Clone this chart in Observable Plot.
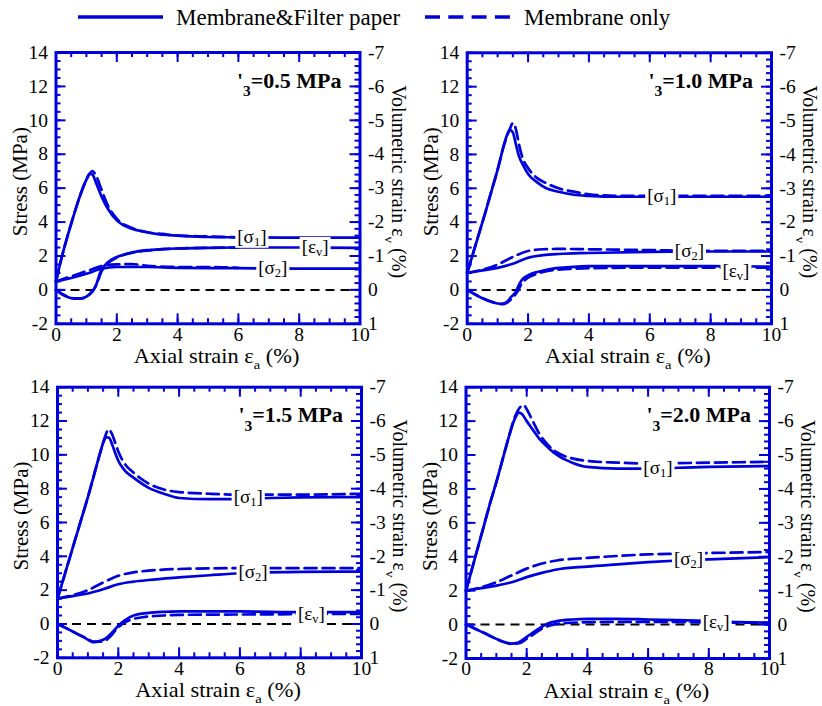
<!DOCTYPE html>
<html>
<head>
<meta charset="utf-8">
<script src="https://cdn.jsdelivr.net/npm/d3@7"></script>
<script src="https://cdn.jsdelivr.net/npm/@observablehq/plot@0.6"></script>
<style>
  body { margin: 0; background: #fff; }
  #root { position: relative; width: 822px; height: 706px; font-family: "Liberation Serif", serif; overflow: hidden; }
  .panel { position: absolute; }
</style>
</head>
<body>
<div id="root"></div>
<script>
// ---------------- data (axial strain %, stress MPa / volumetric strain %) ----------------
const xTicks = [0, 2, 4, 6, 8, 10];
const yTicks = [-2, 0, 2, 4, 6, 8, 10, 12, 14];
const legendNames = ["Membrane&Filter paper", "Membrane only"];
const confining = ["0.5", "1.0", "1.5", "2.0"];

// sigma'3 = 0.5 MPa
const s1_05_mf = [[0,0.5],[0.2,2.0],[0.4,3.3],[0.6,4.5],[0.8,5.6],[1.0,6.5],[1.1,6.85],[1.2,6.8],[1.3,6.4],[1.5,5.5],[1.7,4.8],[2.0,4.1],[2.5,3.6],[3.0,3.4],[3.5,3.25],[4.0,3.2],[5.0,3.12],[6.0,3.1],[8.0,3.08],[10,3.08]];
const s1_05_m  = [[0,0.5],[0.2,2.0],[0.4,3.3],[0.6,4.5],[0.8,5.6],[1.0,6.5],[1.2,7.0],[1.3,6.8],[1.5,5.9],[1.7,5.0],[2.0,4.2],[2.5,3.65],[3.0,3.4],[3.5,3.3],[4.0,3.2],[5.0,3.15],[6.0,3.1]];
const s2_05_mf = [[0,0.5],[0.5,0.7],[1.0,0.95],[1.5,1.25],[2.0,1.35],[3.0,1.35],[4.0,1.3],[6.0,1.28],[8.0,1.25],[10,1.25]];
const s2_05_m  = [[0,0.5],[0.5,0.8],[1.0,1.1],[1.5,1.4],[2.0,1.5],[2.5,1.52],[3.0,1.42],[4.0,1.35],[5.0,1.35],[6.0,1.3]];
const ev_05_mf = [[0,0],[0.2,0.13],[0.4,0.22],[0.6,0.26],[0.8,0.26],[1.0,0.2],[1.15,0.08],[1.3,-0.1],[1.45,-0.5],[1.6,-0.72],[1.8,-0.88],[2.0,-0.97],[2.5,-1.1],[3.0,-1.17],[3.5,-1.2],[4.0,-1.22],[5.0,-1.24],[6.0,-1.25],[8.0,-1.25],[10,-1.24]];
const ev_05_m  = [[0,0],[0.2,0.12],[0.4,0.2],[0.6,0.25],[0.8,0.25],[1.0,0.2],[1.2,0.05],[1.35,-0.2],[1.5,-0.55],[1.7,-0.78],[2.0,-0.95],[2.5,-1.1],[3.0,-1.16],[4.0,-1.22],[5.0,-1.24],[6.0,-1.25]];

// sigma'3 = 1.0 MPa
const s1_10_mf = [[0,1.0],[0.2,2.2],[0.4,3.4],[0.6,4.6],[0.8,5.85],[1.0,7.1],[1.2,8.5],[1.3,9.1],[1.4,9.45],[1.5,9.3],[1.6,8.6],[1.7,7.9],[1.8,7.5],[2.0,6.85],[2.3,6.35],[2.6,6.0],[3.0,5.8],[3.5,5.62],[4.0,5.55],[5.0,5.5],[6.0,5.5],[8.0,5.5],[10,5.5]];
const s1_10_m  = [[0,1.0],[0.2,2.2],[0.4,3.4],[0.6,4.6],[0.8,5.85],[1.0,7.1],[1.2,8.5],[1.4,9.5],[1.5,9.85],[1.6,9.5],[1.7,8.6],[1.8,7.9],[2.0,7.2],[2.3,6.6],[2.6,6.3],[3.0,6.0],[3.5,5.8],[4.0,5.65],[5.0,5.55],[6.0,5.55],[8.0,5.55],[10,5.55]];
const s2_10_mf = [[0,1.0],[0.5,1.15],[1.0,1.3],[1.5,1.55],[2.0,1.9],[2.5,2.05],[3.0,2.12],[4.0,2.18],[6.0,2.25],[8.0,2.27],[10,2.27]];
const s2_10_m  = [[0,1.0],[0.5,1.2],[1.0,1.5],[1.5,1.95],[2.0,2.3],[2.5,2.4],[3.0,2.42],[4.0,2.4],[6.0,2.35],[8.0,2.3],[10,2.3]];
const ev_10_mf = [[0,0],[0.2,0.1],[0.4,0.2],[0.6,0.28],[0.8,0.35],[1.0,0.4],[1.15,0.41],[1.3,0.36],[1.45,0.2],[1.6,0.05],[1.7,-0.15],[1.8,-0.3],[2.0,-0.43],[2.3,-0.53],[2.6,-0.59],[3.0,-0.65],[3.5,-0.68],[4.0,-0.7],[6.0,-0.7],[8.0,-0.7],[10,-0.69]];
const ev_10_m  = [[0,0],[0.4,0.2],[0.8,0.35],[1.15,0.42],[1.3,0.38],[1.5,0.22],[1.65,0.05],[1.8,-0.2],[2.0,-0.36],[2.3,-0.48],[2.6,-0.55],[3.0,-0.6],[4.0,-0.64],[6.0,-0.66],[8.0,-0.66],[10,-0.66]];

// sigma'3 = 1.5 MPa
const s1_15_mf = [[0,1.5],[0.2,2.7],[0.4,3.9],[0.6,5.1],[0.8,6.3],[1.0,7.5],[1.2,8.8],[1.4,10.1],[1.5,10.7],[1.6,11.05],[1.7,11.0],[1.8,10.6],[1.9,10.1],[2.0,9.65],[2.2,9.1],[2.5,8.65],[3.0,8.05],[3.5,7.7],[4.0,7.45],[5.0,7.38],[6.0,7.4],[7.0,7.45],[8.0,7.48],[10,7.5]];
const s1_15_m  = [[0,1.5],[0.2,2.7],[0.4,3.9],[0.6,5.1],[0.8,6.3],[1.0,7.5],[1.2,8.8],[1.4,10.1],[1.55,11.0],[1.68,11.5],[1.8,11.2],[1.9,10.7],[2.0,10.2],[2.2,9.5],[2.5,8.95],[3.0,8.3],[3.5,7.95],[4.0,7.8],[5.0,7.7],[6.0,7.65],[8.0,7.65],[10,7.7]];
const s2_15_mf = [[0,1.5],[0.5,1.65],[1.0,1.8],[1.5,2.05],[2.0,2.35],[2.5,2.5],[3.0,2.6],[4.0,2.75],[5.0,2.88],[6.0,3.0],[8.0,3.08],[10,3.1]];
const s2_15_m  = [[0,1.5],[0.5,1.7],[1.0,2.0],[1.5,2.45],[2.0,2.85],[2.5,3.05],[3.0,3.15],[4.0,3.25],[6.0,3.3],[8.0,3.3],[10,3.3]];
const ev_15_mf = [[0,0],[0.3,0.13],[0.6,0.27],[0.9,0.41],[1.2,0.54],[1.4,0.5],[1.6,0.42],[1.8,0.25],[2.0,0.05],[2.2,-0.1],[2.5,-0.25],[3.0,-0.33],[3.5,-0.36],[4.0,-0.37],[6.0,-0.37],[8.0,-0.35],[10,-0.35]];
const ev_15_m  = [[0,0],[0.3,0.13],[0.6,0.27],[0.9,0.4],[1.2,0.52],[1.5,0.52],[1.7,0.4],[1.9,0.2],[2.1,0.02],[2.4,-0.12],[2.8,-0.2],[3.5,-0.25],[4.0,-0.27],[6.0,-0.28],[8.0,-0.29],[10,-0.3]];

// sigma'3 = 2.0 MPa
const s1_20_mf = [[0,2.0],[0.2,3.3],[0.4,4.6],[0.6,5.9],[0.8,7.2],[1.0,8.4],[1.2,9.7],[1.4,11.0],[1.6,12.1],[1.75,12.5],[1.85,12.4],[2.0,12.0],[2.2,11.5],[2.4,11.0],[2.7,10.45],[3.0,10.0],[3.5,9.55],[4.0,9.3],[5.0,9.2],[6.0,9.2],[7.0,9.25],[8.0,9.3],[10,9.35]];
const s1_20_m  = [[0,2.0],[0.2,3.3],[0.4,4.6],[0.6,5.9],[0.8,7.2],[1.0,8.4],[1.2,9.7],[1.4,11.0],[1.6,12.2],[1.8,12.85],[1.9,12.95],[2.0,12.7],[2.2,12.0],[2.4,11.3],[2.7,10.6],[3.0,10.15],[3.5,9.8],[4.0,9.65],[5.0,9.55],[6.0,9.5],[8.0,9.55],[10,9.6]];
const s2_20_mf = [[0,2.0],[0.5,2.15],[1.0,2.3],[1.5,2.5],[2.0,2.8],[2.5,3.05],[3.0,3.25],[4.0,3.42],[5.0,3.55],[6.0,3.68],[7.0,3.78],[8.0,3.85],[10,3.97]];
const s2_20_m  = [[0,2.0],[0.5,2.2],[1.0,2.5],[1.5,2.9],[2.0,3.3],[2.5,3.6],[3.0,3.78],[4.0,3.93],[5.0,4.05],[6.0,4.14],[7.0,4.18],[8.0,4.22],[10,4.28]];
const ev_20_mf = [[0,0],[0.3,0.12],[0.6,0.25],[0.9,0.38],[1.2,0.5],[1.5,0.56],[1.7,0.54],[1.9,0.43],[2.1,0.3],[2.4,0.12],[2.7,-0.03],[3.0,-0.1],[3.5,-0.15],[4.0,-0.17],[5.0,-0.17],[6.0,-0.15],[7.0,-0.13],[7.6,-0.12],[9.0,-0.07],[10,-0.06]];
const ev_20_m  = [[0,0],[0.3,0.12],[0.6,0.25],[0.9,0.38],[1.2,0.5],[1.5,0.57],[1.75,0.55],[2.0,0.42],[2.2,0.3],[2.5,0.12],[2.8,0.02],[3.2,-0.04],[4.0,-0.07],[5.0,-0.08],[6.0,-0.08],[7.5,-0.07],[10,-0.05]];

// curve tags: [symbol, subscript, x (%), y (stress-axis MPa)]
const tags_05 = [["σ","1",6.46,3.1],["ε","v",8.54,2.5],["σ","2",7.15,1.25]];
const tags_10 = [["σ","1",6.41,5.5],["σ","2",7.32,2.27],["ε","v",8.85,1.1]];
const tags_15 = [["σ","1",6.29,7.45],["σ","2",6.45,3.05],["ε","v",8.37,0.55]];
const tags_20 = [["σ","1",6.34,9.2],["σ","2",7.35,3.85],["ε","v",8.26,0.1]];

// ---------------- rendering ----------------
const BLUE = "#0000dd";
const FONT = "Liberation Serif";
const root = document.getElementById("root");

// legend
(function legend() {
  const svg = d3.select(root).append("svg").attr("class", "panel")
    .style("left", "0px").style("top", "0px").attr("width", 822).attr("height", 40);
  const items = [
    {x1: 78, x2: 163, tx: 176, dash: null},
    {x1: 425, x2: 510, tx: 524, dash: "15,8.3"}
  ];
  items.forEach((it, i) => {
    svg.append("line").attr("x1", it.x1).attr("x2", it.x2).attr("y1", 17).attr("y2", 17)
      .attr("stroke", BLUE).attr("stroke-width", 3.5).attr("stroke-dasharray", it.dash);
    svg.append("text").attr("x", it.tx).attr("y", 25).attr("font-family", FONT)
      .attr("font-size", 23).attr("fill", "black").text(legendNames[i]);
  });
})();

const panels = [
  {left: 0,   top: 0,   H: 380, mL: 55.5, mR: 51.5, mT: 52,   mB: 56.7, c: confining[0],
   series: [[s1_05_mf,0,0],[s1_05_m,1,0],[s2_05_mf,0,0],[s2_05_m,1,0],[ev_05_mf,0,1],[ev_05_m,1,1]], tags: tags_05},
  {left: 411, top: 0,   H: 380, mL: 55.7, mR: 51,   mT: 52.3, mB: 56.7, c: confining[1],
   series: [[s1_10_mf,0,0],[s1_10_m,1,0],[s2_10_mf,0,0],[s2_10_m,1,0],[ev_10_mf,0,1],[ev_10_m,1,1]], tags: tags_10},
  {left: 0,   top: 340, H: 366, mL: 57,   mR: 50,   mT: 46.7, mB: 48.7, c: confining[2],
   series: [[s1_15_mf,0,0],[s1_15_m,1,0],[s2_15_mf,0,0],[s2_15_m,1,0],[ev_15_mf,0,1],[ev_15_m,1,1]], tags: tags_15},
  {left: 411, top: 340, H: 366, mL: 54.5, mR: 53,   mT: 46.7, mB: 48,   c: confining[3],
   series: [[s1_20_mf,0,0],[s1_20_m,1,0],[s2_20_mf,0,0],[s2_20_m,1,0],[ev_20_mf,0,1],[ev_20_m,1,1]], tags: tags_20}
];

const xMinor = d3.range(0, 10.001, 0.5);
const yMinorL = d3.range(-2, 14.001, 0.5);
const yMinorR = d3.range(0, 8.001, 0.2).map(v => -2 + v * 2);

panels.forEach(p => {
  const W = 411;
  const fw = W - p.mL - p.mR, fh = p.H - p.mT - p.mB;
  const marks = [];
  marks.push(Plot.ruleY([0], {stroke: "black", strokeWidth: 2, strokeDasharray: "9,6"}));
  p.series.forEach(([data, dashed, isEv]) => {
    marks.push(Plot.line(data, {
      x: d => d[0],
      y: isEv ? d => -2 * d[1] : d => d[1],
      stroke: BLUE, strokeWidth: 2.7,
      strokeDasharray: dashed ? "12,6" : undefined,
      curve: "monotone-x"
    }));
  });
  const tk = {stroke: BLUE, strokeWidth: 2};
  // inward ticks on all four sides
  marks.push(Plot.ruleX(xMinor, {x: d => d, ...tk, insetTop: fh - 5}));
  marks.push(Plot.ruleX(xTicks, {x: d => d, ...tk, insetTop: fh - 10}));
  marks.push(Plot.ruleX(xMinor, {x: d => d, ...tk, insetBottom: fh - 5}));
  marks.push(Plot.ruleX(xTicks, {x: d => d, ...tk, insetBottom: fh - 10}));
  marks.push(Plot.ruleY(yMinorL, {y: d => d, ...tk, insetRight: fw - 5}));
  marks.push(Plot.ruleY(yTicks, {y: d => d, ...tk, insetRight: fw - 10}));
  marks.push(Plot.ruleY(yMinorR, {y: d => d, ...tk, insetLeft: fw - 5}));
  marks.push(Plot.ruleY(yTicks, {y: d => d, ...tk, insetLeft: fw - 10}));
  marks.push(Plot.frame({stroke: BLUE, strokeWidth: 3}));
  marks.push(Plot.axisX({anchor: "bottom", ticks: xTicks, tickSize: 0, tickPadding: 3, tickFormat: d => String(d), label: null}));
  marks.push(Plot.axisY({anchor: "left", ticks: yTicks, tickSize: 0, tickPadding: 8, tickFormat: d => String(d), label: null}));
  marks.push(Plot.axisY({anchor: "right", ticks: yTicks, tickSize: 0, tickPadding: 8, tickFormat: d => String(-d / 2 === 0 ? 0 : -d / 2), label: null}));

  const svg = Plot.plot({
    width: W, height: p.H,
    marginLeft: p.mL, marginRight: p.mR, marginTop: p.mT, marginBottom: p.mB,
    x: {domain: [0, 10]},
    y: {domain: [-2, 14]},
    style: {background: "transparent", fontFamily: FONT, fontSize: "19.5px", color: "black", overflow: "visible"},
    marks
  });
  svg.classList.add("panel");
  svg.style.position = "absolute";
  svg.style.left = p.left + "px";
  svg.style.top = p.top + "px";
  root.appendChild(svg);

  const sx = svg.scale("x"), sy = svg.scale("y");
  const g = d3.select(svg).append("g").attr("font-family", FONT).attr("fill", "black");

  // curve tags with white background
  p.tags.forEach(([sym, sub, x, y]) => {
    const px = sx.apply(x), py = sy.apply(y);
    const tg = g.append("g");
    const rect = tg.append("rect").attr("fill", "white");
    const t = tg.append("text").attr("x", px).attr("y", py + 6).attr("text-anchor", "middle").attr("font-size", 19);
    t.append("tspan").text("[" + sym);
    t.append("tspan").attr("font-size", 12.5).attr("dy", 3).text(sub);
    t.append("tspan").attr("dy", -3).text("]");
    const bb = t.node().getBBox();
    rect.attr("x", bb.x - 2).attr("y", bb.y + 1).attr("width", bb.width + 4).attr("height", bb.height - 2);
  });

  const fx0 = p.mL, fx1 = W - p.mR, fy0 = p.mT, fy1 = p.H - p.mB;
  // title
  const tt = g.append("text").attr("x", fx1 - 18).attr("y", fy0 + 35.5).attr("text-anchor", "end")
    .attr("font-size", 22).attr("font-weight", "bold");
  tt.append("tspan").text("'");
  tt.append("tspan").attr("font-size", 15.5).attr("dy", 8.5).text("3");
  tt.append("tspan").attr("dy", -8.5).text("=" + p.c + " MPa");

  // left axis label
  g.append("text").attr("transform", `translate(${fx0 - 36},${(fy0 + fy1) / 2 - 6}) rotate(-90)`)
    .attr("text-anchor", "middle").attr("dy", "0.35em").attr("font-size", 21).text("Stress (MPa)");
  // right axis label
  const rl = g.append("text").attr("transform", `translate(${fx1 + 39},${(fy0 + fy1) / 2 - 6}) rotate(90)`)
    .attr("text-anchor", "middle").attr("dy", "0.35em").attr("font-size", 20);
  rl.append("tspan").text("Volumetric strain ε");
  rl.append("tspan").attr("font-size", 13).attr("dy", 7).text("v");
  rl.append("tspan").attr("dy", -7).text(" (%)");
  // bottom axis label (slightly widened like the reference lettering)
  const bl = g.append("text").attr("transform", `translate(${(fx0 + fx1) / 2 + 9},${fy1 + 40}) scale(1.12,1)`)
    .attr("text-anchor", "middle").attr("font-size", 20);
  bl.append("tspan").text("Axial strain ε");
  bl.append("tspan").attr("font-size", 13).attr("dy", 6).text("a");
  bl.append("tspan").attr("dy", -6).text(" (%)");
});
</script>
</body>
</html>
